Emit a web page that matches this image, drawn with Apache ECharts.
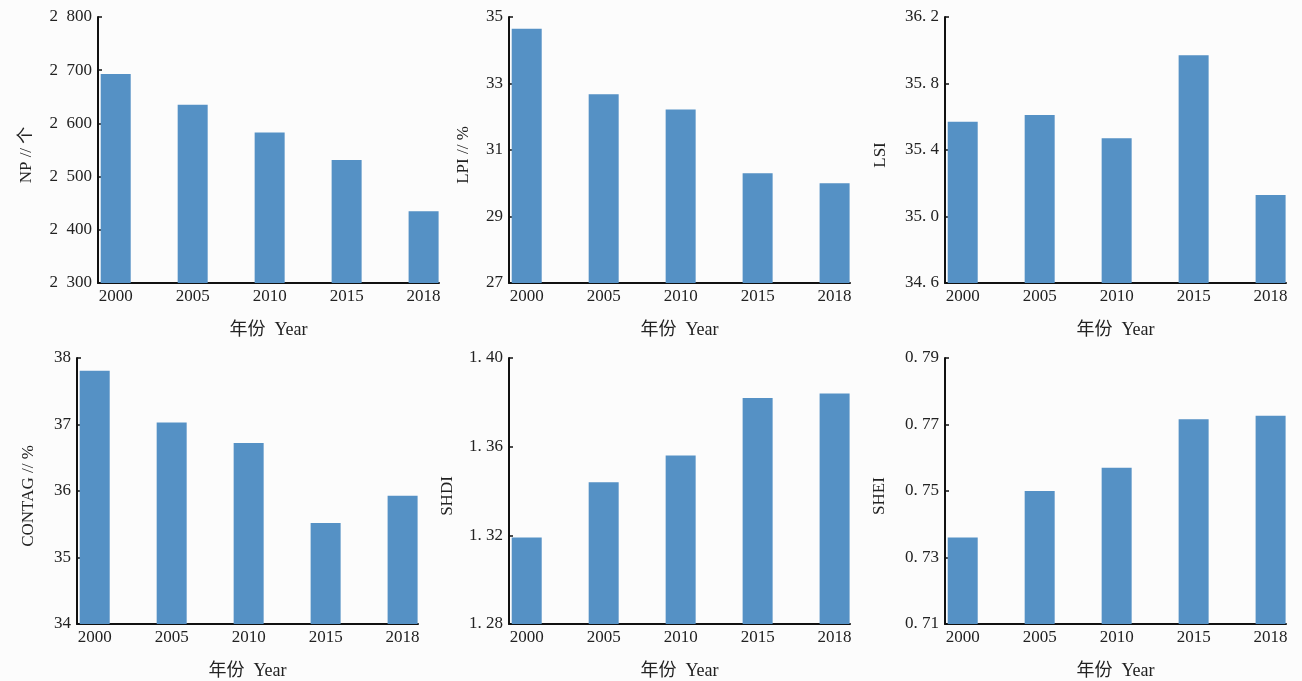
<!DOCTYPE html>
<html>
<head>
<meta charset="utf-8">
<script src="https://cdn.jsdelivr.net/npm/echarts@6/dist/echarts.min.js"></script>
<style>
  html, body { margin: 0; padding: 0; background: #fcfcfc; }
  #main { width: 1302px; height: 681px; }
</style>
</head>
<body>
<div id="main"></div>
<script>
// years on the x axis
var years = ['2000', '2005', '2010', '2015', '2018'];

// landscape metrics
var npValues = [2693, 2635, 2583, 2531, 2435];
var lpiValues = [34.65, 32.68, 32.22, 30.30, 30.00];
var lsiValues = [35.57, 35.61, 35.47, 35.97, 35.13];
var contagValues = [37.81, 37.03, 36.72, 35.52, 35.93];
var shdiValues = [1.319, 1.344, 1.356, 1.382, 1.384];
var sheiValues = [0.736, 0.750, 0.757, 0.7716, 0.7726];

// y axis ranges [min, max, interval]
var npRange = [2300, 2800, 100];
var lpiRange = [27, 35, 2];
var lsiRange = [34.6, 36.2, 0.4];
var contagRange = [34, 38, 1];
var shdiRange = [1.28, 1.40, 0.04];
var sheiRange = [0.71, 0.79, 0.02];

var font = "'Liberation Serif', 'Noto Sans CJK SC', serif";
var barColor = '#5591c5';

function thousands(v) {
    var s = String(Math.round(v));
    return s.length > 3 ? s.slice(0, s.length - 3) + '\u2002' + s.slice(-3) : s;
}
function decimals(n) {
    return function (v) { return v.toFixed(n).replace('.', '. '); };
}
function plain(v) { return String(Math.round(v)); }

var panels = [
    { name: 'NP // 个', values: npValues, range: npRange, fmt: thousands, left: 98, top: 17, gap: 63 },
    { name: 'LPI // %', values: lpiValues, range: lpiRange, fmt: plain, left: 509, top: 17, gap: 37 },
    { name: 'LSI', values: lsiValues, range: lsiRange, fmt: decimals(1), left: 945, top: 17, gap: 56 },
    { name: 'CONTAG // %', values: contagValues, range: contagRange, fmt: plain, left: 77, top: 358, gap: 40 },
    { name: 'SHDI', values: shdiValues, range: shdiRange, fmt: decimals(2), left: 509, top: 358, gap: 53 },
    { name: 'SHEI', values: sheiValues, range: sheiRange, fmt: decimals(2), left: 945, top: 358, gap: 57 }
];

var grids = [], xAxes = [], yAxes = [], series = [];
panels.forEach(function (p, i) {
    grids.push({ left: p.left, top: p.top, width: 341, height: 266 });
    xAxes.push({
        type: 'value',
        gridIndex: i,
        min: -0.23,
        max: 4.2,
        name: '年份  Year',
        nameLocation: 'middle',
        nameGap: 38,
        nameTextStyle: { fontFamily: font, fontSize: 18, color: '#222' },
        axisLine: { show: true, onZero: false, lineStyle: { color: '#111', width: 2 } },
        axisTick: { show: false },
        splitLine: { show: false },
        axisLabel: {
            customValues: years.map(function (y, k) { return k; }),
            formatter: function (v) { return years[Math.round(v)]; },
            margin: 5,
            fontFamily: font,
            fontSize: 17,
            color: '#222'
        }
    });
    yAxes.push({
        type: 'value',
        gridIndex: i,
        min: p.range[0],
        max: p.range[1],
        interval: p.range[2],
        name: p.name,
        nameLocation: 'middle',
        nameGap: p.gap,
        nameTextStyle: { fontFamily: font, fontSize: 17, color: '#222', padding: [0, 10, 0, 0] },
        axisLine: { show: true, onZero: false, lineStyle: { color: '#111', width: 2 } },
        axisTick: { show: true, inside: true, length: 4, lineStyle: { color: '#111', width: 1.5 } },
        splitLine: { show: false },
        axisLabel: {
            formatter: p.fmt,
            margin: 6,
            fontFamily: font,
            fontSize: 17,
            color: '#222'
        }
    });
    series.push({
        type: 'bar',
        xAxisIndex: i,
        yAxisIndex: i,
        barWidth: 30,
        itemStyle: { color: barColor },
        data: p.values.map(function (v, k) { return [k, v]; })
    });
});

var chart = echarts.init(document.getElementById('main'));
chart.setOption({
    backgroundColor: '#fcfcfc',
    animation: false,
    grid: grids,
    xAxis: xAxes,
    yAxis: yAxes,
    series: series
});
</script>
</body>
</html>
